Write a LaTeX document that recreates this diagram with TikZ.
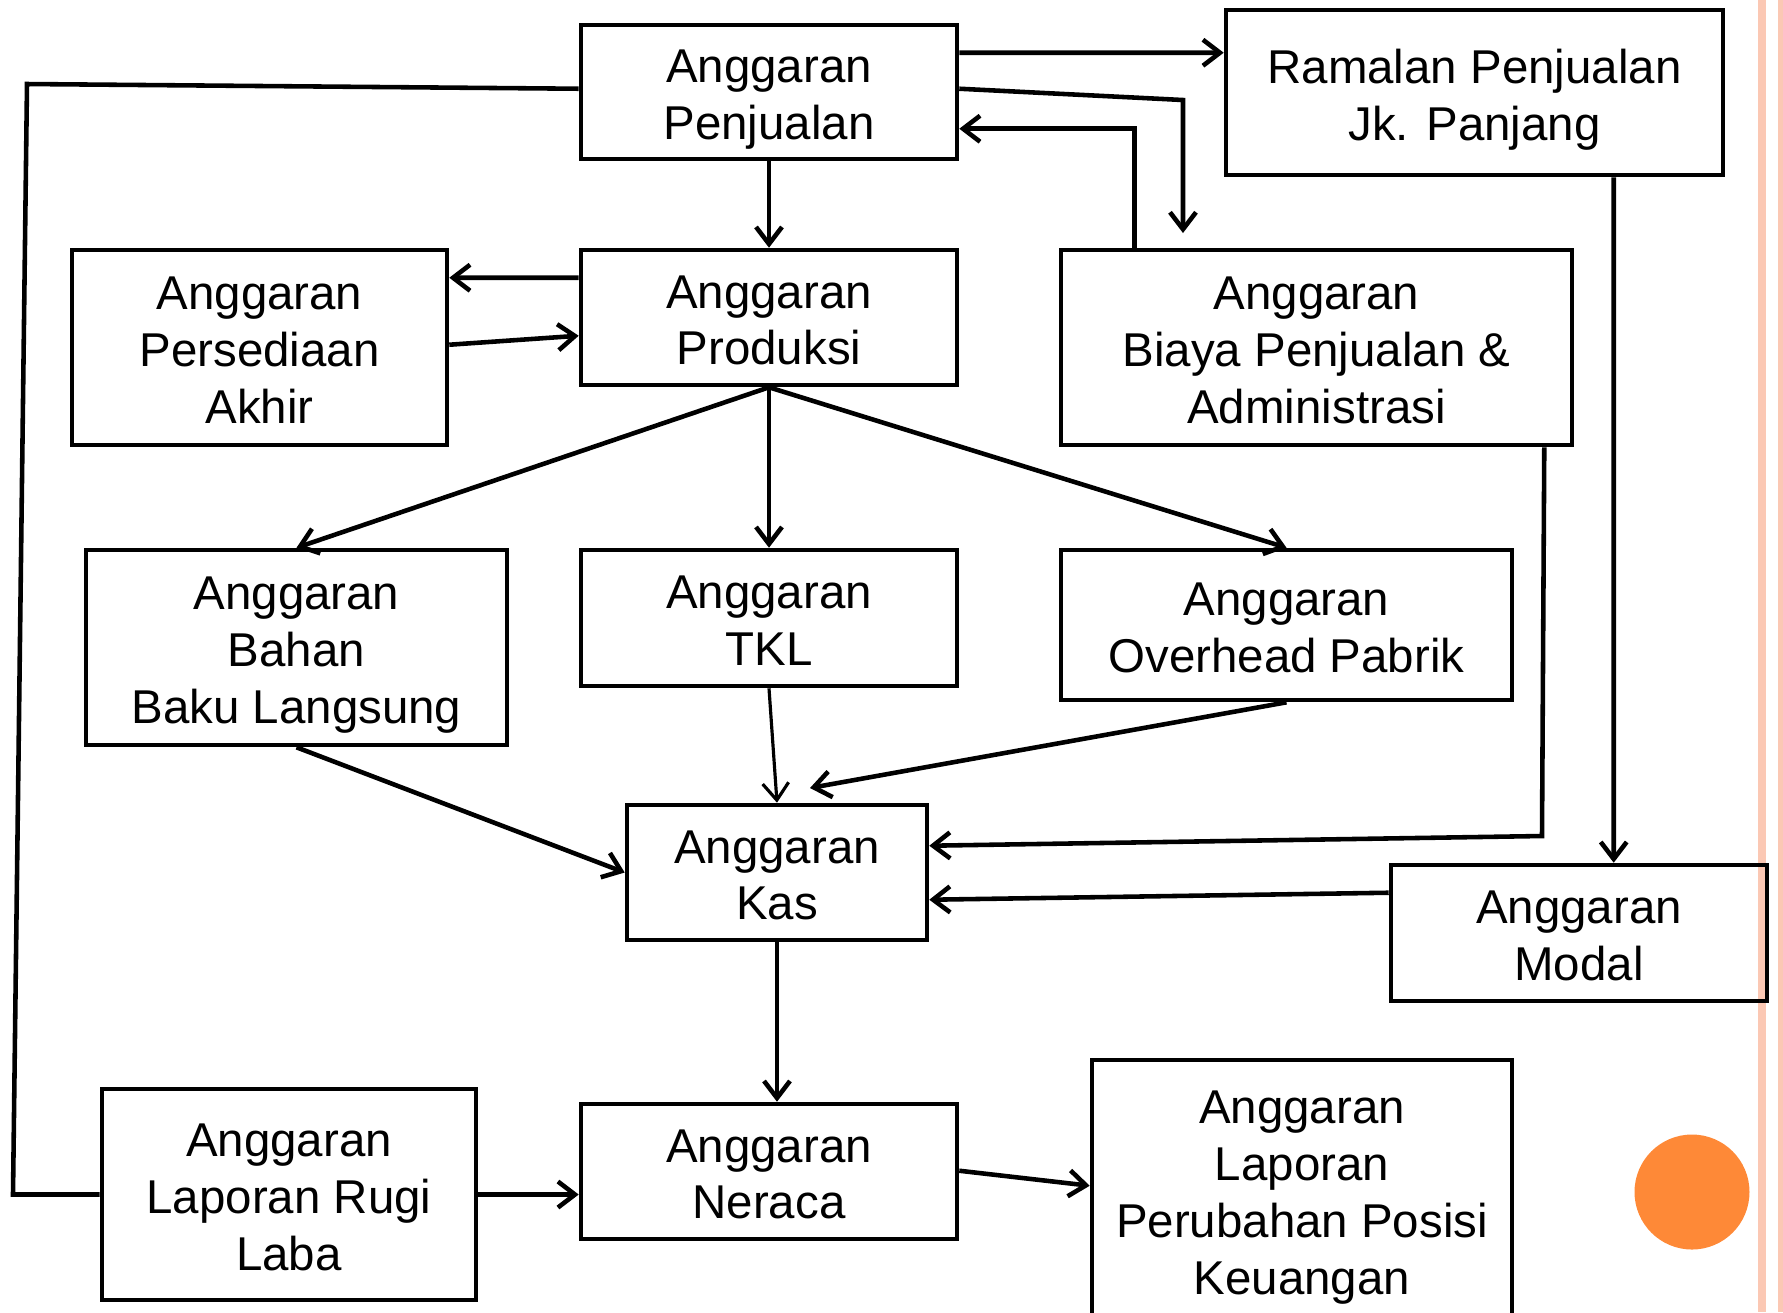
\documentclass[tikz,border=0pt]{standalone}
\usepackage{fontspec}
\setmainfont{Liberation Sans}
\usepackage{tikz}
\usetikzlibrary{positioning, calc, arrows.meta}
\definecolor{stripe}{RGB}{251,200,180}
\definecolor{dot}{RGB}{254,137,55}

\begin{document}
\begin{tikzpicture}[
    line width=1.3pt,
    box/.style={rectangle, draw, align=center, inner sep=0pt, font=\fontsize{13.5pt}{16.2pt}\selectfont,
        execute at begin node={\vbox\bgroup\kern4.9pt\hbox\bgroup},
        execute at end node={\rule[-3.4pt]{0pt}{3.4pt}\egroup\egroup}},
    arr/.style={-{Straight Barb[length=1.7mm,width=2.6mm]}}
]
    \useasboundingbox (0,0) rectangle (17.83,-13.12);

    % Background
    \fill[stripe] (17.58,0) rectangle (17.66,-13.12);
    \fill[stripe] (17.78,0) rectangle (17.90,-13.12);
    \fill[dot] (16.92,-11.92) circle (0.575);

    % Row 1
    \node[box, minimum width=3.76cm, minimum height=1.34cm] (penjualan) at (7.69,-0.92) {Anggaran\\Penjualan};
    \node[box, minimum width=4.97cm, minimum height=1.65cm] (ramalan) at (14.745,-0.925) {Ramalan Penjualan\\Jk. Panjang};

    % Row 2
    \node[box, minimum width=3.75cm, minimum height=1.95cm] (persediaan) at (2.595,-3.475) {Anggaran\\Persediaan\\Akhir};
    \node[box, minimum width=3.76cm, minimum height=1.35cm] (produksi) at (7.69,-3.175) {Anggaran\\Produksi};
    \node[box, minimum width=5.11cm, minimum height=1.95cm] (biaya) at (13.165,-3.475) {Anggaran\\Biaya Penjualan \&\\Administrasi};

    % Row 3
    \node[box, minimum width=4.21cm, minimum height=1.95cm] (bahan) at (2.965,-6.475) {Anggaran\\Bahan\\Baku Langsung};
    \node[box, minimum width=3.76cm, minimum height=1.36cm] (tkl) at (7.69,-6.18) {Anggaran\\TKL};
    \node[box, minimum width=4.51cm, minimum height=1.50cm] (overhead) at (12.865,-6.25) {Anggaran\\Overhead Pabrik};

    % Row 4
    \node[box, minimum width=3.00cm, minimum height=1.35cm] (kas) at (7.77,-8.725) {Anggaran\\Kas};
    \node[box, minimum width=3.76cm, minimum height=1.36cm] (modal) at (15.79,-9.33) {Anggaran\\Modal};

    % Row 5
    \node[box, minimum width=3.74cm, minimum height=2.11cm] (rugilaba) at (2.89,-11.945) {Anggaran\\Laporan Rugi\\Laba};
    \node[box, minimum width=3.76cm, minimum height=1.35cm] (neraca) at (7.69,-11.715) {Anggaran\\Neraca};
    \node[box, minimum width=4.20cm, minimum height=2.60cm] (perubahan) at (13.02,-11.90) {Anggaran\\Laporan\\Perubahan Posisi\\Keuangan};

    % Free ends
    \coordinate (tobiaya) at (11.83,-2.33);
    \coordinate (tokas) at (8.10,-7.88);

    % Connectors
    \draw[arr] ($(penjualan.north east)+(0,-0.30)$) -- ($(ramalan.north west)+(0,-0.45)$);
    \draw[arr] ($(penjualan.north east)+(0,-0.66)$) -- (11.83,-1.00) -- (tobiaya);
    \draw[arr] ($(biaya.north west)+(0.76,0)$) |- ($(penjualan.north east)+(0,-1.06)$);
    \draw[arr] (penjualan.south) -- (produksi.north);
    \draw[arr] ($(produksi.north west)+(0,-0.30)$) -- ($(persediaan.north east)+(0,-0.30)$);
    \draw[arr] ($(persediaan.north east)+(0,-0.97)$) -- ($(produksi.north west)+(0,-0.88)$);
    \draw ($(penjualan.north west)+(0,-0.66)$) -- (0.27,-0.84) -- (0.13,-11.945) -- (rugilaba.west);
    \draw[arr] (produksi.south) -- (bahan.north);
    \draw[arr] (produksi.south) -- (tkl.north);
    \draw[arr] (produksi.south) -- (overhead.north);
    \draw[arr] (bahan.south) -- (kas.west);
    \draw[arr, line width=0.9pt] (tkl.south) -- (kas.north);
    \draw[arr] (overhead.south) -- (tokas);
    \draw[arr] ($(biaya.south east)+(-0.30,0)$) -- (15.42,-8.36) -- ($(kas.north east)+(0,-0.43)$);
    \draw[arr] ($(ramalan.south west)+(3.90,0)$) -- ($(modal.north west)+(2.25,0)$);
    \draw[arr] ($(modal.north west)+(0,-0.30)$) -- ($(kas.north east)+(0,-0.97)$);
    \draw[arr] (kas.south) -- (kas.south |- neraca.north);
    \draw[arr] (rugilaba.east) -- (rugilaba.east -| neraca.west);
    \draw[arr] ($(neraca.north east)+(0,-0.69)$) -- ($(perubahan.north west)+(0,-1.28)$);
\end{tikzpicture}
\end{document}
